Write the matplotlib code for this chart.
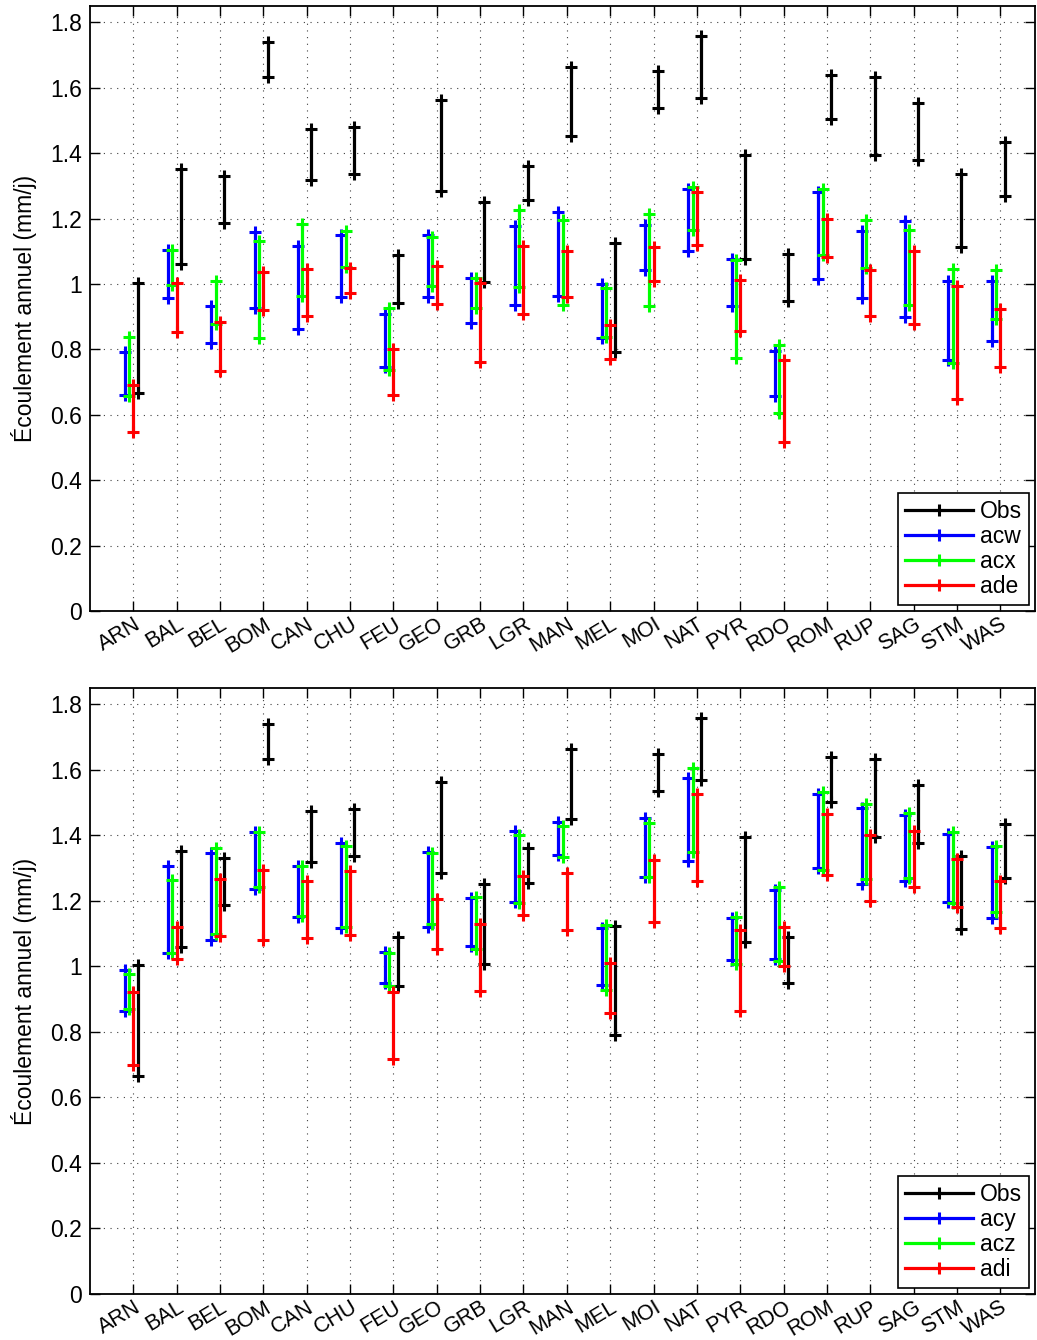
import numpy as np
import matplotlib.pyplot as plt
import matplotlib.transforms as mtransforms

plt.rcParams['font.family'] = ['Liberation Sans', 'DejaVu Sans']

stations = ['ARN', 'BAL', 'BEL', 'BOM', 'CAN', 'CHU', 'FEU', 'GEO', 'GRB', 'LGR', 'MAN',
            'MEL', 'MOI', 'NAT', 'PYR', 'RDO', 'ROM', 'RUP', 'SAG', 'STM', 'WAS']

# écoulement observé (min / max)
obs_min = [0.667, 1.060, 1.187, 1.634, 1.318, 1.336, 0.941, 1.285, 1.007, 1.256, 1.451,
           0.791, 1.537, 1.569, 1.076, 0.948, 1.503, 1.395, 1.378, 1.114, 1.270]
obs_max = [1.004, 1.353, 1.331, 1.740, 1.474, 1.481, 1.090, 1.562, 1.251, 1.362, 1.665,
           1.124, 1.650, 1.759, 1.395, 1.091, 1.640, 1.634, 1.553, 1.337, 1.434]

# simulations, figure du haut
acw_min = [0.661, 0.957, 0.820, 0.927, 0.861, 0.959, 0.745, 0.960, 0.882, 0.936, 0.964,
           0.834, 1.042, 1.101, 0.932, 0.657, 1.014, 0.957, 0.899, 0.767, 0.827]
acw_max = [0.792, 1.104, 0.932, 1.160, 1.116, 1.150, 0.907, 1.150, 1.019, 1.176, 1.219,
           1.000, 1.179, 1.289, 1.076, 0.795, 1.282, 1.163, 1.194, 1.010, 1.010]
acx_min = [0.657, 0.998, 0.877, 0.834, 0.962, 1.052, 0.736, 0.995, 0.927, 0.992, 0.936,
           0.839, 0.932, 1.166, 0.773, 0.605, 1.089, 1.048, 0.937, 0.757, 0.892]
acx_max = [0.839, 1.104, 1.009, 1.131, 1.184, 1.163, 0.927, 1.144, 1.017, 1.225, 1.197,
           0.989, 1.214, 1.297, 1.074, 0.813, 1.289, 1.197, 1.166, 1.047, 1.042]
ade_min = [0.546, 0.854, 0.735, 0.919, 0.902, 0.972, 0.661, 0.938, 0.760, 0.907, 0.959,
           0.771, 1.009, 1.119, 0.857, 0.518, 1.081, 0.901, 0.877, 0.647, 0.745]
ade_max = [0.690, 1.004, 0.884, 1.038, 1.045, 1.048, 0.801, 1.054, 1.004, 1.116, 1.101,
           0.876, 1.113, 1.281, 1.013, 0.767, 1.200, 1.042, 1.101, 0.994, 0.922]

# simulations, figure du bas
acy_min = [0.863, 1.041, 1.080, 1.236, 1.151, 1.116, 0.949, 1.119, 1.062, 1.196, 1.341,
           0.942, 1.273, 1.322, 1.020, 1.023, 1.302, 1.251, 1.262, 1.197, 1.148]
acy_max = [0.990, 1.306, 1.345, 1.409, 1.306, 1.378, 1.045, 1.350, 1.209, 1.412, 1.440,
           1.116, 1.453, 1.576, 1.147, 1.234, 1.527, 1.485, 1.463, 1.405, 1.364]
acz_min = [0.869, 1.041, 1.099, 1.242, 1.155, 1.120, 0.940, 1.131, 1.052, 1.193, 1.335,
           0.927, 1.274, 1.350, 1.007, 1.016, 1.293, 1.266, 1.270, 1.193, 1.165]
acz_max = [0.978, 1.264, 1.363, 1.409, 1.306, 1.369, 1.041, 1.345, 1.212, 1.401, 1.430,
           1.125, 1.437, 1.605, 1.152, 1.242, 1.534, 1.495, 1.468, 1.409, 1.367]
adi_min = [0.698, 1.023, 1.094, 1.081, 1.088, 1.097, 0.717, 1.052, 0.926, 1.157, 1.111,
           0.859, 1.135, 1.260, 0.865, 1.000, 1.279, 1.200, 1.242, 1.180, 1.116]
adi_max = [0.921, 1.120, 1.268, 1.293, 1.260, 1.290, 0.921, 1.206, 1.131, 1.277, 1.286,
           1.011, 1.326, 1.527, 1.110, 1.121, 1.466, 1.401, 1.412, 1.328, 1.260]

x = np.arange(1, len(stations) + 1)
fs = 16.5


def plage(ax, dx, lo, hi, color, label):
    # un segment vertical par station, séparés par des NaN
    xs = np.repeat(x + dx, 3).astype(float)
    ys = np.column_stack([lo, hi, np.full(len(lo), np.nan)]).ravel()
    xs[2::3] = np.nan
    ax.plot(xs, ys, color=color, lw=2.3, marker='+', ms=8, mew=2.2, label=label)


def panneau(ax, series):
    for dx, lo, hi, c, lab in series:
        plage(ax, dx, lo, hi, c, lab)
    ax.set_xlim(0, 21.8)
    ax.set_ylim(0, 1.85)
    ax.set_xticks(x)
    ax.set_yticks(np.arange(0, 1.81, 0.2))
    ax.set_yticklabels(['0', '0.2', '0.4', '0.6', '0.8', '1', '1.2', '1.4', '1.6', '1.8'])
    ax.set_xticklabels(stations, rotation=31, ha='right', va='top', rotation_mode='anchor',
                       fontsize=15.5)
    off = mtransforms.ScaledTranslation(14 / 100, 4 / 100, ax.figure.dpi_scale_trans)
    for t in ax.get_xticklabels():
        t.set_transform(t.get_transform() + off)
    ax.tick_params(direction='in', length=7, width=1, top=True, right=True, pad=6)
    ax.tick_params(axis='y', labelsize=fs)
    ax.tick_params(axis='x', pad=2)
    ax.grid(True, color='0.25', linestyle=(0, (1, 5)), lw=0.8)
    for s in ax.spines.values():
        s.set_linewidth(1.3)
    ax.set_ylabel('Écoulement annuel (mm/j)', fontsize=fs)
    ax.yaxis.set_label_coords(-0.056, 0.5)
    leg = ax.legend(loc='lower right', fontsize=fs, handlelength=3.0, handletextpad=0.3,
                    labelspacing=0.1, borderpad=0.3, fancybox=False, framealpha=1,
                    edgecolor='k', borderaxespad=0.25, numpoints=1)
    leg.get_frame().set_linewidth(1.2)


fig = plt.figure(figsize=(10.37, 13.40), dpi=100)
ax1 = fig.add_axes([90 / 1037, 1 - 611 / 1340, 945 / 1037, 605 / 1340])
ax2 = fig.add_axes([90 / 1037, 1 - 1294 / 1340, 945 / 1037, 606 / 1340])

panneau(ax1, [(0.1, obs_min, obs_max, 'k', 'Obs'),
              (-0.2, acw_min, acw_max, 'b', 'acw'),
              (-0.1, acx_min, acx_max, 'lime', 'acx'),
              (0.0, ade_min, ade_max, 'r', 'ade')])
panneau(ax2, [(0.1, obs_min, obs_max, 'k', 'Obs'),
              (-0.2, acy_min, acy_max, 'b', 'acy'),
              (-0.1, acz_min, acz_max, 'lime', 'acz'),
              (0.0, adi_min, adi_max, 'r', 'adi')])

fig.savefig('out.png', dpi=100)
